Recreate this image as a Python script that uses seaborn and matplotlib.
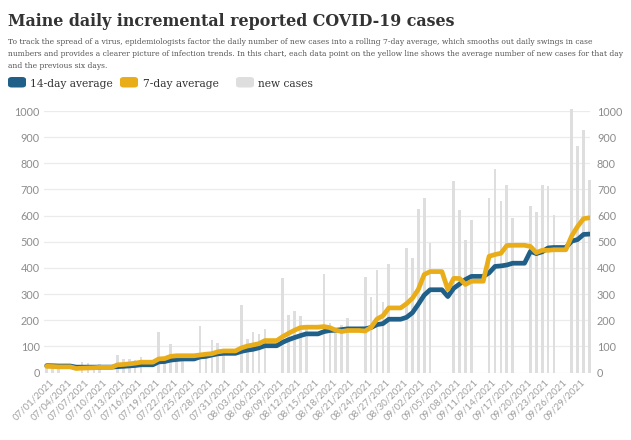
import numpy as np
import pandas as pd
import matplotlib
matplotlib.use("Agg")
import matplotlib.pyplot as plt
import seaborn as sns
from matplotlib.patches import FancyBboxPatch

# ---------------- data ----------------
start_date = "2021-06-30"
end_date = "2021-09-30"

new_cases = [30, 25, 22, 0, 0, 0, 40, 35, 30, 32, 0, 0,
             68, 50, 51, 48, 59, 0, 0,
             155, 60, 109, 65, 60, 0, 0,
             176, 80, 123, 113, 85, 0, 0,
             257, 129, 155, 147, 167, 0, 0,
             361, 218, 237, 217, 180, 0, 0,
             377, 189, 170, 180, 208, 0, 0,
             364, 289, 391, 268, 416, 0, 0,
             478, 436, 626, 667, 494, 0, 0,
             0, 733, 621, 508, 582, 0, 0,
             667, 780, 654, 716, 589, 0, 0,
             635, 614, 718, 715, 604, 0, 0,
             1006, 867, 926, 738]

avg7 = [23.6, 22.9, 21.7, 21.7, 21.7, 15.3, 16.7, 17.4, 18.1, 19.6, 19.6, 19.6,
        29.3, 30.7, 33.0, 35.6, 39.4, 39.4, 39.4,
        51.9, 53.3, 61.6, 64.0, 64.1, 64.1, 64.1,
        67.1, 70.0, 72.0, 78.9, 82.4, 82.4, 82.4,
        94.0, 101.0, 105.6, 110.4, 122.1, 122.1, 122.1,
        137.0, 149.7, 161.4, 171.4, 173.3, 173.3, 173.3,
        175.6, 171.4, 161.9, 156.6, 160.6, 160.6, 160.6,
        158.7, 173.0, 204.6, 217.1, 246.9, 246.9, 246.9,
        263.1, 284.1, 317.7, 374.7, 385.9, 385.9, 385.9,
        317.6, 360.0, 359.3, 336.6, 349.1, 349.1, 349.1,
        444.4, 451.1, 455.9, 485.6, 486.6, 486.6, 486.6,
        482.0, 458.3, 467.4, 467.3, 469.4, 469.4, 469.4,
        522.4, 558.6, 588.3, 591.6]

avg14 = [26.1, 25.7, 24.8, 24.8, 24.8, 20.5, 20.5, 20.5, 20.5, 20.6, 20.6, 20.6,
         22.3, 23.7, 25.2, 26.9, 29.5, 29.5, 29.5,
         40.6, 42.0, 47.3, 49.8, 51.8, 51.8, 51.8,
         59.5, 61.6, 66.8, 71.4, 73.3, 73.3, 73.3,
         80.6, 85.5, 88.8, 94.6, 102.3, 102.3, 102.3,
         115.5, 125.4, 133.5, 140.9, 147.7, 147.7, 147.7,
         156.3, 160.6, 161.6, 164.0, 166.9, 166.9, 166.9,
         167.1, 172.2, 183.2, 186.9, 203.7, 203.7, 203.7,
         210.9, 228.6, 261.1, 295.9, 316.4, 316.4, 316.4,
         290.4, 322.1, 338.5, 355.6, 367.5, 367.5, 367.5,
         381.0, 405.6, 407.6, 411.1, 417.9, 417.9, 417.9,
         463.2, 454.7, 461.6, 476.4, 478.0, 478.0, 478.0,
         502.2, 508.4, 527.9, 529.4]

tick_dates = ["07/01/2021", "07/04/2021", "07/07/2021", "07/10/2021", "07/13/2021",
              "07/16/2021", "07/19/2021", "07/22/2021", "07/25/2021", "07/28/2021",
              "07/31/2021", "08/03/2021", "08/06/2021", "08/09/2021", "08/12/2021",
              "08/15/2021", "08/18/2021", "08/21/2021", "08/24/2021", "08/27/2021",
              "08/30/2021", "09/02/2021", "09/05/2021", "09/08/2021", "09/11/2021",
              "09/14/2021", "09/17/2021", "09/20/2021", "09/23/2021", "09/26/2021",
              "09/29/2021"]
y_ticks = [0, 100, 200, 300, 400, 500, 600, 700, 800, 900, 1000]

title = "Maine daily incremental reported COVID-19 cases"
subtitle = [
    "To track the spread of a virus, epidemiologists factor the daily number of new cases into a rolling 7-day average, which smooths out daily swings in case",
    "numbers and provides a clearer picture of infection trends. In this chart, each data point on the yellow line shows the average number of new cases for that day",
    "and the previous six days.",
]
legend_labels = ["14-day average", "7-day average", "new cases"]

# ---------------- styling ----------------
BLUE = "#1f5f88"
GOLD = "#e8ad18"
BAR = "#dedede"
GRID = "#ebebeb"
TICK = "#8c8c8c"

dates = pd.date_range(start_date, end_date, freq="D")
df = pd.DataFrame({"date": dates, "new": new_cases, "avg7": avg7, "avg14": avg14})
df["day"] = np.arange(len(df))
tick_pos = [int((pd.to_datetime(t, format="%m/%d/%Y") - dates[0]).days) for t in tick_dates]

sns.set_theme(style="white")
plt.rcParams["font.family"] = ["DejaVu Sans"]

W, H = 631, 440
fig = plt.figure(figsize=(W / 100, H / 100), dpi=100)
fig.patch.set_facecolor("white")

def fx(px):
    return px / W

def fy(py):
    return 1 - py / H

ax = fig.add_axes([fx(44), fy(372.5), fx(590) - fx(44), fy(111) - fy(372.5)])
ax.set_facecolor("white")

sns.barplot(data=df, x="day", y="new", native_scale=True, width=0.45, color=BAR,
            saturation=1, errorbar=None, linewidth=0, ax=ax, zorder=2)
for p in ax.patches:
    p.set_clip_on(False)
sns.lineplot(data=df, x="day", y="avg14", color=BLUE, linewidth=3.4, ax=ax,
             zorder=3, solid_capstyle="round", solid_joinstyle="round")
sns.lineplot(data=df, x="day", y="avg7", color=GOLD, linewidth=3.4, ax=ax,
             zorder=4, solid_capstyle="round", solid_joinstyle="round")

ax.set_xlim(-0.45, 92.1)
ax.set_ylim(0, 1000)
ax.set_yticks(y_ticks)
ax.set_yticklabels([str(v) for v in y_ticks])
ax.grid(axis="y", color=GRID, linewidth=0.9, zorder=0)
ax.grid(axis="x", visible=False)
ax.set_axisbelow(True)
for s in ax.spines.values():
    s.set_visible(False)
ax.set_xlabel("")
ax.set_ylabel("")
ax.set_xticks(tick_pos)
ax.set_xticklabels(tick_dates, rotation=45, ha="right", va="center", rotation_mode="anchor")
ax.tick_params(axis="x", length=0, pad=6, labelsize=7, labelcolor="#a0a0a0")
ax.tick_params(axis="y", length=0, pad=3, labelsize=7.8, labelcolor=TICK)
for lab in ax.get_xticklabels() + ax.get_yticklabels():
    lab.set_fontfamily("Lato")

ax2 = ax.twinx()
ax2.set_ylim(0, 1000)
ax2.set_yticks(y_ticks)
ax2.set_yticklabels([str(v) for v in y_ticks])
ax2.tick_params(axis="y", length=0, pad=5, labelsize=7.8, labelcolor=TICK)
for lab in ax2.get_yticklabels():
    lab.set_fontfamily("Lato")
for s in ax2.spines.values():
    s.set_visible(False)
ax2.grid(False)

# ---------------- header texts ----------------
fig.canvas.draw()
renderer = fig.canvas.get_renderer()

def fit_width(t, target_px):
    for _ in range(3):
        w = t.get_window_extent(renderer=renderer).width
        t.set_fontsize(t.get_fontsize() * target_px / w)

t_title = fig.text(fx(8), fy(26), title, fontsize=15, fontweight="bold",
                   family="DejaVu Serif", color="#333333", va="baseline", ha="left")
fit_width(t_title, 444)

sub_texts = []
for i, line in enumerate(subtitle):
    t = fig.text(fx(8), fy(44 + 12 * i), line, fontsize=6.5, family="DejaVu Serif",
                 color="#555555", va="baseline", ha="left")
    sub_texts.append(t)
fit_width(sub_texts[1], 611)
for t in sub_texts:
    t.set_fontsize(sub_texts[1].get_fontsize())

leg_colors = [BLUE, GOLD, BAR]
patch_x = [8, 120, 236]
text_x = [30, 143, 258]
leg_texts = []
for c, px, tx, lab in zip(leg_colors, patch_x, text_x, legend_labels):
    fig.patches.append(FancyBboxPatch((fx(px), fy(87.5)), fx(18), fy(77) - fy(87.5),
                                      boxstyle="round,pad=0,rounding_size=0.006",
                                      transform=fig.transFigure, facecolor=c,
                                      edgecolor="none"))
    t = fig.text(fx(tx), fy(87), lab, fontsize=9, family="DejaVu Serif",
                 color="#333333", va="baseline", ha="left")
    leg_texts.append(t)
fit_width(leg_texts[0], 82)
for t in leg_texts:
    t.set_fontsize(leg_texts[0].get_fontsize())

fig.savefig("out.png", dpi=100, facecolor="white")
